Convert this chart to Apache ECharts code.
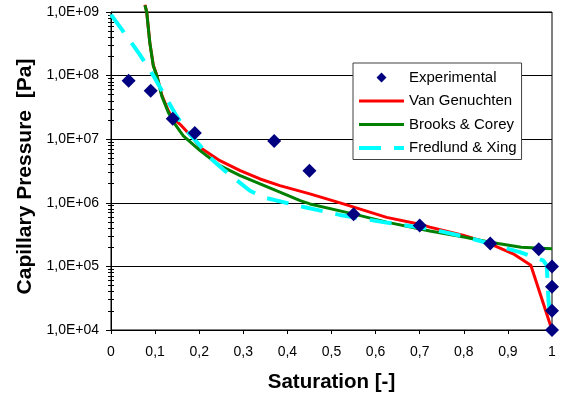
<!DOCTYPE html>
<html>
<head>
<meta charset="utf-8">
<script src="https://cdn.jsdelivr.net/npm/echarts@6/dist/echarts.min.js"></script>
<style>
html,body{margin:0;padding:0;background:#fff;}
#chart{width:568px;height:398px;}
</style>
</head>
<body>
<div id="chart"></div>
<script>
// ---- Tick labels ----
const xTickLabels = ['0','0,1','0,2','0,3','0,4','0,5','0,6','0,7','0,8','0,9','1'];
const yTickLabels = ['1,0E+04','1,0E+05','1,0E+06','1,0E+07','1,0E+08','1,0E+09'];

// ---- Series names ----
const seriesNames = ['Experimental','Van Genuchten','Brooks & Corey','Fredlund & Xing'];

// ---- Experimental points ----
const expSat = [0.04, 0.09, 0.14, 0.19, 0.37, 0.45, 0.55, 0.70, 0.86, 0.97, 1.0, 1.0, 1.0, 1.0];
const expPc  = [8.3e7, 5.8e7, 2.1e7, 1.25e7, 9.4e6, 3.2e6, 6.6e5, 4.4e5, 2.29e5, 1.86e5, 1.0e5, 4.8e4, 2.0e4, 1.0e4];

// ---- Van Genuchten ----
const vgSat = [0.077, 0.081, 0.088, 0.096, 0.104, 0.115, 0.13, 0.14, 0.156, 0.19, 0.202, 0.247, 0.293, 0.338, 0.383, 0.451, 0.527, 0.625, 0.70, 0.723, 0.80, 0.86, 0.912, 0.952, 1.0];
const vgPc  = [1.3e9, 1.0e9, 3.3e8, 1.45e8, 1.0e8, 5.0e7, 2.8e7, 2.14e7, 1.73e7, 9.7e6, 7.4e6, 4.6e6, 3.2e6, 2.37e6, 1.86e6, 1.38e6, 9.6e5, 5.9e5, 4.6e5, 4.15e5, 3.06e5, 2.27e5, 1.58e5, 1.04e5, 1.0e4];

// ---- Brooks & Corey ----
const bcSat = [0.077, 0.081, 0.088, 0.096, 0.104, 0.115, 0.13, 0.145, 0.164, 0.202, 0.247, 0.293, 0.338, 0.383, 0.429, 0.451, 0.549, 0.625, 0.723, 0.80, 0.86, 0.93, 1.0];
const bcPc  = [1.27e9, 1.0e9, 3.3e8, 1.41e8, 9.9e7, 4.8e7, 2.63e7, 1.73e7, 1.13e7, 6.6e6, 3.83e6, 2.67e6, 1.98e6, 1.47e6, 1.08e6, 9.6e5, 6.7e5, 4.97e5, 3.6e5, 2.9e5, 2.4e5, 2.0e5, 1.9e5];

// ---- Fredlund & Xing ----
const fxSat = [0.0, 0.046, 0.065, 0.096, 0.12, 0.149, 0.172, 0.232, 0.258, 0.315, 0.345, 0.44, 0.519, 0.617, 0.723, 0.80, 0.86, 0.927, 0.98, 0.988, 0.99, 0.992, 1.0];
const fxPc  = [9.1e8, 3.3e8, 2.16e8, 1.0e8, 5.1e7, 2.3e7, 1.35e7, 4.6e6, 3.2e6, 1.55e6, 1.22e6, 8.5e5, 6.45e5, 4.97e5, 3.9e5, 2.95e5, 2.27e5, 1.68e5, 1.24e5, 1.04e5, 5.8e4, 2.9e4, 1.0e4];

const FONT = 'Arial, "Liberation Sans", sans-serif';
const pairs = (xs, ys) => xs.map((x, i) => [x, ys[i]]);

// minor tick positions for log axis (2..9 per decade)
const yMinorTicks = [];
for (let e = 4; e < 9; e++) for (let m = 2; m <= 9; m++) yMinorTicks.push(m * Math.pow(10, e));

// legend diamond centred in a 45x10 box (tiny zero-area end marks keep the box width)
const legendDiamond = 'path://M0,5L0.01,5Z M17.5,5L22.5,0L27.5,5L22.5,10Z M44.99,5L45,5Z';
const hiddenSymbol = {color: 'rgba(0,0,0,0)', borderWidth: 0, opacity: 0};

const chart = echarts.init(document.getElementById('chart'), null, {renderer: 'canvas'});
chart.setOption({
  animation: false,
  backgroundColor: '#fff',
  grid: {left: 111, right: 16, top: 12, bottom: 67, show: true, borderColor: '#000', borderWidth: 1, backgroundColor: 'transparent'},
  xAxis: {
    type: 'value', min: 0, max: 1, interval: 0.1,
    name: 'Saturation [-]', nameLocation: 'middle', nameGap: 42,
    nameTextStyle: {fontFamily: FONT, fontSize: 20.5, fontWeight: 'bold', color: '#000'},
    axisLine: {lineStyle: {color: '#000', width: 1}},
    axisTick: {show: true, length: 4, lineStyle: {color: '#000'}},
    splitLine: {show: false},
    axisLabel: {fontFamily: FONT, fontSize: 14, color: '#000', margin: 15,
      formatter: v => xTickLabels[Math.round(v * 10)]}
  },
  yAxis: [{
    type: 'log', logBase: 10, min: 1e4, max: 1e9, splitNumber: 5,
    name: 'Capillary Pressure  [Pa]', nameLocation: 'middle', nameGap: 74,
    nameTextStyle: {fontFamily: FONT, fontSize: 21, fontWeight: 'bold', color: '#000', padding: [0, 11, 0, 0]},
    axisLine: {show: true, lineStyle: {color: '#000', width: 1}},
    axisTick: {show: true, length: 5, lineStyle: {color: '#000'}},
    splitLine: {show: true, lineStyle: {color: '#000', width: 1}},
    axisLabel: {fontFamily: FONT, fontSize: 14, color: '#000', margin: 12,
      formatter: v => yTickLabels[Math.round(Math.log10(v)) - 4]}
  }, {
    type: 'log', logBase: 10, min: 1e4, max: 1e9, position: 'left', offset: -3,
    axisLine: {show: false},
    axisLabel: {show: false},
    splitLine: {show: false},
    axisTick: {show: true, length: 6, customValues: yMinorTicks, lineStyle: {color: '#000'}}
  }],
  legend: {
    orient: 'vertical', left: 353, top: 63,
    padding: [7, 5, 4, 4],
    itemWidth: 45, itemHeight: 10, itemGap: 8.5,
    borderColor: '#404040', borderWidth: 1, backgroundColor: '#fff',
    textStyle: {fontFamily: FONT, fontSize: 15, color: '#000', lineHeight: 14},
    data: [
      {name: seriesNames[0], icon: legendDiamond, itemStyle: {color: '#000080', opacity: 1}},
      {name: seriesNames[1], lineStyle: {width: 3}, itemStyle: hiddenSymbol},
      {name: seriesNames[2], lineStyle: {width: 3}, itemStyle: hiddenSymbol},
      {name: seriesNames[3], lineStyle: {width: 4}, itemStyle: hiddenSymbol}
    ]
  },
  series: [
    {name: seriesNames[1], type: 'line', data: pairs(vgSat, vgPc), symbol: 'none', clip: false,
     lineStyle: {color: '#ff0000', width: 3}, itemStyle: {color: '#ff0000'}, z: 2},
    {name: seriesNames[2], type: 'line', data: pairs(bcSat, bcPc), symbol: 'none', clip: false,
     lineStyle: {color: '#008000', width: 3}, itemStyle: {color: '#008000'}, z: 3},
    {name: seriesNames[3], type: 'line', data: pairs(fxSat, fxPc), symbol: 'none', clip: false,
     lineStyle: {color: '#00ffff', width: 4, type: [22, 13]}, itemStyle: {color: '#00ffff'}, z: 4},
    {name: seriesNames[0], type: 'scatter', data: pairs(expSat, expPc), symbol: 'diamond', symbolSize: 14,
     clip: false, itemStyle: {color: '#000080', opacity: 1}, z: 10}
  ]
});
</script>
</body>
</html>
